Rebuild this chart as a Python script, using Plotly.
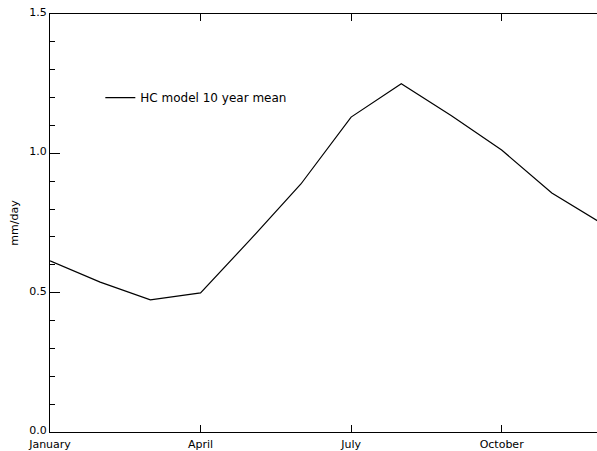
import plotly.graph_objects as go

months = ["January", "February", "March", "April", "May", "June",
          "July", "August", "September", "October", "November", "December"]
hc_mean = [0.614, 0.538, 0.474, 0.499, 0.692, 0.890,
           1.130, 1.250, 1.135, 1.012, 0.858, 0.748]
series_name = "HC model 10 year mean"
xtick_labels = ["January", "April", "July", "October"]

fig = go.Figure()
fig.add_trace(go.Scatter(
    x=months, y=hc_mean, mode="lines", name=series_name,
    line=dict(color="black", width=1.2), showlegend=True,
))

font = dict(family="DejaVu Sans", size=11, color="black")

fig.update_layout(
    width=597, height=451,
    margin=dict(l=50, r=0, t=14, b=19, pad=0),
    paper_bgcolor="white", plot_bgcolor="white",
    font=font,
    showlegend=True,
    legend=dict(x=0.092, y=0.80, xanchor="left", yanchor="middle",
                bgcolor="rgba(0,0,0,0)", borderwidth=0,
                font=dict(family="DejaVu Sans", size=12, color="black")),
    xaxis=dict(
        type="category", categoryorder="array", categoryarray=months,
        range=[0, 10.9], tickmode="array", tickvals=xtick_labels, ticktext=xtick_labels,
        showline=True, linecolor="black", linewidth=1, mirror="ticks",
        ticks="inside", ticklen=7, tickcolor="black", tickwidth=1,
        ticklabelstandoff=2,
        showgrid=False, zeroline=False, automargin=False,
        tickfont=font,
    ),
    yaxis=dict(
        range=[0, 1.5], tickmode="linear", tick0=0, dtick=0.5, tickformat=".1f",
        showline=True, linecolor="black", linewidth=1, mirror=False,
        ticks="inside", ticklen=10, tickcolor="black", tickwidth=1,
        ticklabelshift=-2,
        minor=dict(dtick=0.1, ticks="inside", ticklen=5, tickcolor="black", tickwidth=1, showgrid=False),
        showgrid=False, zeroline=False, automargin=False,
        title=dict(text="mm/day", font=font, standoff=8),
        tickfont=font,
    ),
)

fig.write_html("out.html")
